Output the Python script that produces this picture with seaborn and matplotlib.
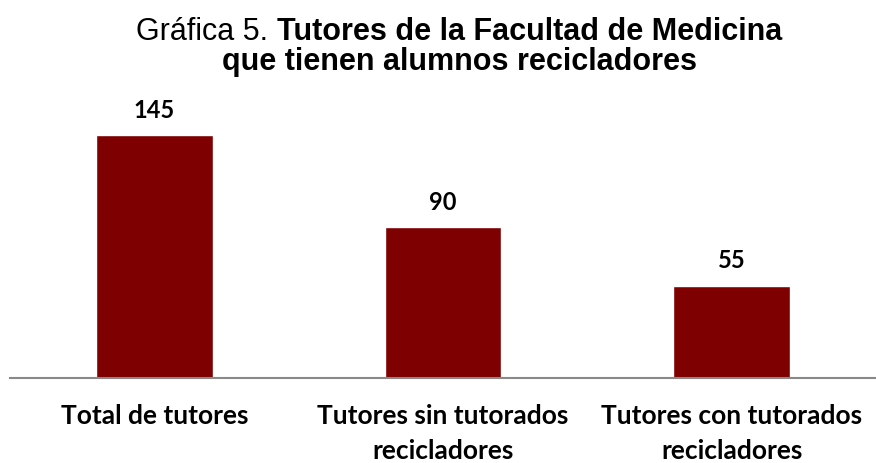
import matplotlib
matplotlib.use("Agg")
import matplotlib.pyplot as plt
import seaborn as sns
import pandas as pd

categorias = ["Total de tutores", "Tutores sin tutorados\nrecicladores", "Tutores con tutorados\nrecicladores"]
valores = [145, 90, 55]

sns.set_theme(style="white")
plt.rcParams["font.family"] = ["Lato", "DejaVu Sans"]
plt.rcParams["text.color"] = "black"
plt.rcParams["xtick.color"] = "black"

df = pd.DataFrame({"cat": categorias, "val": valores})

fig = plt.figure(figsize=(8.76, 4.63), dpi=100)
ax = fig.add_axes([10 / 876, 85 / 463, 866 / 876, 278 / 463])

sns.barplot(data=df, x="cat", y="val", color="#7f0000", saturation=1, width=0.405, ax=ax)

ax.set_ylim(0, 166)
ax.set_xlim(-0.5, 2.5)
ax.set_xlabel("")
ax.set_ylabel("")
ax.set_yticks([])
for s in ["top", "right", "left"]:
    ax.spines[s].set_visible(False)
ax.spines["bottom"].set_color("#898989")
ax.spines["bottom"].set_linewidth(1.5)
ax.tick_params(axis="x", length=0, pad=19)
for lbl in ax.get_xticklabels():
    lbl.set_fontweight("bold")
    lbl.set_fontsize(19)
    lbl.set_linespacing(1.55)
    lbl.set_color("black")

for i, v in enumerate(valores):
    ax.annotate(str(v), (i, v), xytext=(0, 18), textcoords="offset points",
                ha="center", va="center", fontsize=17, fontweight="bold", color="black")

# titulo con parte normal y parte en negrita
tf = ["Liberation Sans", "DejaVu Sans"]
t1 = fig.text(0, 0, "Gráfica 5. ", fontsize=22, family=tf, color="black")
t2 = fig.text(0, 0, "Tutores de la Facultad de Medicina", fontsize=22, family=tf,
              fontweight="bold", color="black")
r = fig.canvas.get_renderer()
w1 = t1.get_window_extent(r).width
w2 = t2.get_window_extent(r).width
x0 = 459 - (w1 + w2) / 2
y1 = 463 - 40
t1.set_position((x0 / 876, y1 / 463))
t2.set_position(((x0 + w1) / 876, y1 / 463))
t1.set_va("baseline")
t2.set_va("baseline")
fig.text(460 / 876, (463 - 70) / 463, "que tienen alumnos recicladores", fontsize=22,
         family=tf, fontweight="bold", ha="center", va="baseline", color="black")

fig.savefig("out.png", dpi=100)
